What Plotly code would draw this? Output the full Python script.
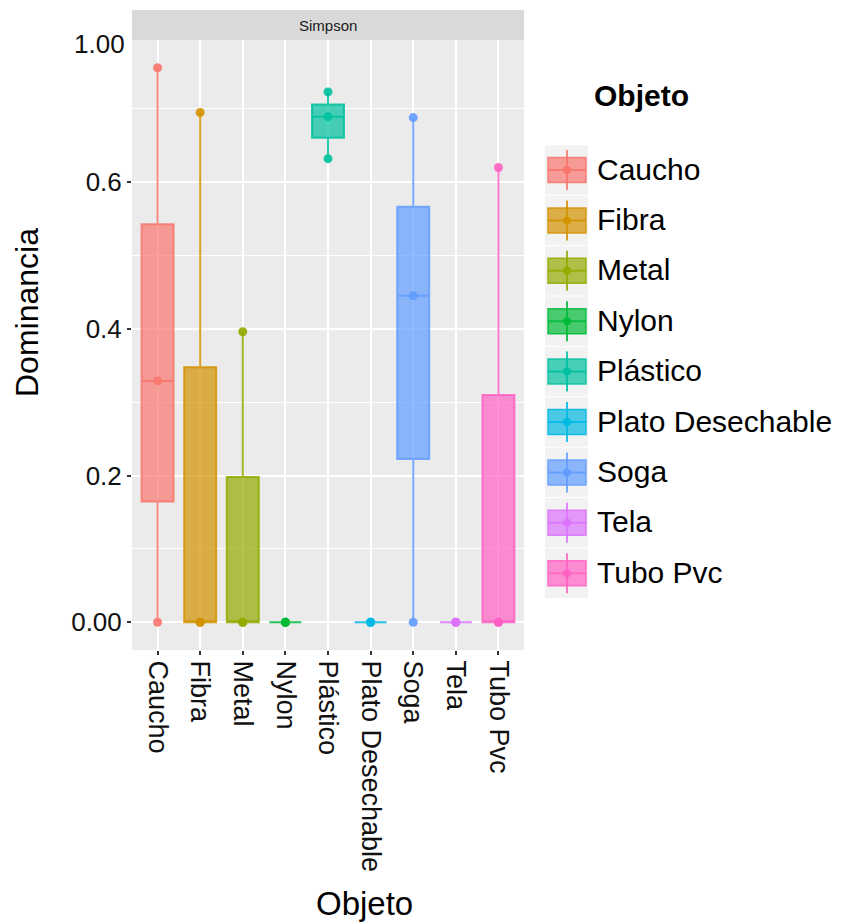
import plotly.graph_objects as go

# ---- data ----
categories = ["Caucho", "Fibra", "Metal", "Nylon", "Plástico", "Plato Desechable", "Soga", "Tela", "Tubo Pvc"]
values_caucho = [0.0, 0.329, 0.756]
values_fibra = [0.0, 0.0, 0.695]
values_metal = [0.0, 0.0, 0.396]
values_nylon = [0.0, 0.0, 0.0]
values_plastico = [0.632, 0.689, 0.723]
values_plato = [0.0, 0.0, 0.0]
values_soga = [0.0, 0.445, 0.688]
values_tela = [0.0, 0.0, 0.0]
values_tubo = [0.0, 0.0, 0.620]
series = [values_caucho, values_fibra, values_metal, values_nylon, values_plastico,
          values_plato, values_soga, values_tela, values_tubo]
colors = ["#F8766D", "#D39200", "#93AA00", "#00BA38", "#00C19F", "#00B9E3", "#619CFF", "#DB72FB", "#FF61C3"]
ytick_vals = [0.0, 0.2, 0.4, 0.6]
ytick_text = ["0.00", "0.2", "0.4", "0.6"]
top_label = "1.00"
top_label_pos = 0.788
facet_label = "Simpson"
legend_title = "Objeto"
x_title = "Objeto"
y_title = "Dominancia"


def rgba(hexc, a):
    h = hexc.lstrip("#")
    r, g, b = int(h[0:2], 16), int(h[2:4], 16), int(h[4:6], 16)
    return f"rgba({r},{g},{b},{a})"


# ---- layout geometry (reference-page pixels; page body has an 8px margin) ----
OFF = 8
W, H = 847 - OFF, 922 - OFF
L, R, T, B = 132 - OFF, 524 - OFF, 40 - OFF, 650 - OFF
PW, PH = R - L, B - T


def px(x):
    return (x - OFF - L) / PW


def py(y):
    return (B - (y - OFF)) / PH


fig = go.Figure()
for cat, vals, col in zip(categories, series, colors):
    fig.add_trace(go.Box(
        x=[cat] * len(vals), y=vals, name=cat,
        boxpoints="all", jitter=0, pointpos=0,
        quartilemethod="inclusive",
        width=0.75, whiskerwidth=0,
        fillcolor=rgba(col, 0.7),
        line=dict(color=rgba(col, 0.85), width=2),
        marker=dict(color=rgba(col, 0.9), size=9),
        showlegend=False,
        hoverinfo="y",
    ))

shapes = []
annotations = []

# facet strip
shapes.append(dict(type="rect", xref="paper", yref="paper", x0=0, x1=1,
                   y0=1, y1=py(10), fillcolor="#D9D9D9", line=dict(width=0), layer="below"))
annotations.append(dict(text=facet_label, xref="paper", yref="paper", x=0.5, y=py(25),
                        showarrow=False, font=dict(size=15, color="#1A1A1A"),
                        xanchor="center", yanchor="middle"))

# extra top y label
annotations.append(dict(text=top_label, xref="paper", yref="y", x=px(127), y=top_label_pos,
                        showarrow=False, xanchor="right", yanchor="middle",
                        font=dict(size=26, color="#111111")))

# axis titles
annotations.append(dict(text=y_title, xref="paper", yref="paper", x=px(27), y=py(313),
                        showarrow=False, textangle=-90, xanchor="center", yanchor="middle",
                        font=dict(size=32, color="#000000")))
annotations.append(dict(text=x_title, xref="paper", yref="paper", x=px(364), y=py(903),
                        showarrow=False, xanchor="center", yanchor="middle",
                        font=dict(size=33, color="#000000")))

# custom ggplot-like legend
annotations.append(dict(text=f"<b>{legend_title}</b>", xref="paper", yref="paper",
                        x=px(592), y=py(96), showarrow=False, xanchor="left", yanchor="middle",
                        font=dict(size=30, color="#000000")))
key_x0, key_x1 = 545, 588
box_x0, box_x1 = 548, 586
cx = (box_x0 + box_x1) / 2
first_c, step = 170, 50.4
for i, (cat, col) in enumerate(zip(categories, colors)):
    c = first_c + i * step
    shapes.append(dict(type="rect", xref="paper", yref="paper", x0=px(key_x0), x1=px(key_x1),
                       y0=py(c + step / 2 - 0.5), y1=py(c - step / 2 + 0.5),
                       fillcolor="#F2F2F2", line=dict(width=0)))
    shapes.append(dict(type="line", xref="paper", yref="paper", x0=px(cx), x1=px(cx),
                       y0=py(c - 20), y1=py(c + 20), line=dict(color=rgba(col, 0.85), width=2)))
    shapes.append(dict(type="rect", xref="paper", yref="paper", x0=px(box_x0), x1=px(box_x1),
                       y0=py(c + 12.5), y1=py(c - 12.5), fillcolor=rgba(col, 0.7),
                       line=dict(color=rgba(col, 0.85), width=1.5)))
    shapes.append(dict(type="line", xref="paper", yref="paper", x0=px(box_x0), x1=px(box_x1),
                       y0=py(c), y1=py(c), line=dict(color=rgba(col, 0.85), width=2)))
    shapes.append(dict(type="circle", xref="paper", yref="paper", x0=px(cx - 4), x1=px(cx + 4),
                       y0=py(c + 4), y1=py(c - 4), fillcolor=rgba(col, 0.95), line=dict(width=0)))
    annotations.append(dict(text=cat, xref="paper", yref="paper", x=px(595), y=py(c - 1),
                            showarrow=False, xanchor="left", yanchor="middle",
                            font=dict(size=30, color="#000000")))

fig.update_layout(
    width=W, height=H,
    margin=dict(l=L, r=W - R, t=T, b=H - B, pad=0),
    paper_bgcolor="white", plot_bgcolor="#EBEBEB",
    font=dict(family="Liberation Sans, Arial, sans-serif", color="#111111"),
    boxmode="overlay",
    showlegend=False,
    shapes=shapes, annotations=annotations,
    xaxis=dict(
        type="category", categoryorder="array", categoryarray=categories,
        range=[-0.6, len(categories) - 0.4],
        showgrid=True, gridcolor="white", gridwidth=2,
        ticks="outside", ticklen=4, tickcolor="#333333", tickwidth=1.5,
        tickangle=90, tickfont=dict(size=27, color="#111111"),
        zeroline=False, showline=False,
    ),
    yaxis=dict(
        range=[-0.0378, 0.7938],
        tickvals=ytick_vals, ticktext=ytick_text,
        showgrid=True, gridcolor="white", gridwidth=2,
        minor=dict(tick0=0.1, dtick=0.2, showgrid=True, gridcolor="white", gridwidth=1, ticks=""),
        ticks="outside", ticklen=4, tickcolor="#333333", tickwidth=1.5,
        tickfont=dict(size=26, color="#111111"),
        zeroline=False, showline=False,
    ),
)

fig.write_html("out.html")
